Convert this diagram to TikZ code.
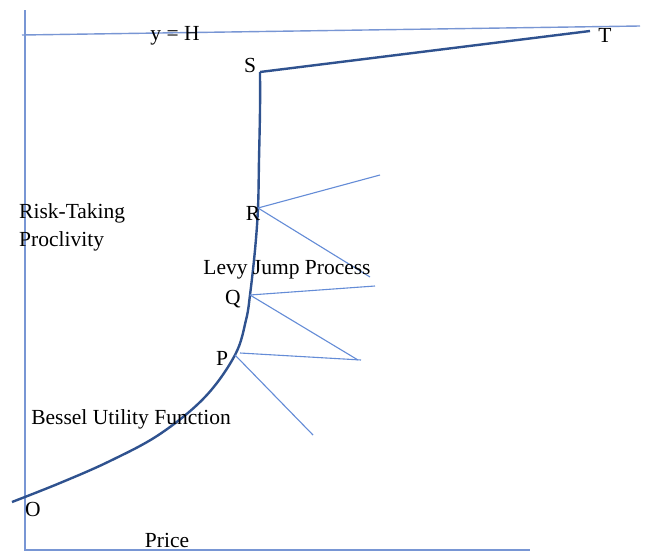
\documentclass[tikz,border=0pt]{standalone}
\usepackage{fontspec}
\setmainfont{Liberation Serif}
\begin{document}
\begin{tikzpicture}[x=1pt,y=-1pt,
  axis/.style={draw=axisblue,line width=1.4pt},
  curve/.style={draw=curveblue,line width=2.4pt},
  jump/.style={draw=jumpblue,line width=1.1pt},
  lbl/.style={font=\fontsize{21.5}{28}\selectfont,inner sep=0pt,text=black}]
\definecolor{axisblue}{RGB}{120,150,212}
\definecolor{curveblue}{RGB}{47,82,143}
\definecolor{jumpblue}{RGB}{100,140,215}
\useasboundingbox (0,0) rectangle (646,552);
\fill[white] (0,0) rectangle (646,552);
% axes
\coordinate (ytop) at (25,10);
\coordinate (origin) at (25,550);
\coordinate (xend) at (530,550);
\coordinate (hl) at (22,35);
\coordinate (hr) at (640,26);
\draw[axis] (ytop) -- (origin) -- (xend);
\draw[axis] (hl) -- (hr);
% main curve
\coordinate (O) at (12,502);
\coordinate (P) at (235,355);
\coordinate (Q) at (250,295);
\coordinate (R) at (258,208);
\coordinate (S) at (260,72);
\coordinate (T) at (590,31);
\draw[curve] plot[smooth,tension=0.6] coordinates {(12,502) (60,483) (110,461) (160,434) (205,397) (235,355) (246,320) (250,295) (255,250) (258,208) (259,160) (260,110) (260,72)};
\draw[curve] (S) -- (T);
% jumps
\coordinate (r1) at (380,175);
\coordinate (r2) at (370,277);
\coordinate (q1) at (375,286);
\coordinate (q2) at (358,360);
\coordinate (p0) at (240,353);
\coordinate (p1) at (361,360);
\coordinate (p2) at (313,435);
\draw[jump] (R) -- (r1);
\draw[jump] (R) -- (r2);
\draw[jump] (Q) -- (q1);
\draw[jump] (Q) -- (q2);
\draw[jump] (p0) -- (p1);
\draw[jump] (P) -- (p2);
% labels
\node[lbl] (lH) at (175,36) {y = H};
\node[lbl] (lS) at (250,65) {S};
\node[lbl] (lT) at (605,35) {T};
\node[lbl] (lR) at (253,213) {R};
\node[lbl] (lQ) at (233,299) {Q};
\node[lbl] (lP) at (222,358) {P};
\node[lbl] (lO) at (33,509) {O};
\node[lbl] (lPrice) at (167,540) {Price};
\node[lbl,anchor=west,align=left] (lRisk) at (19,227) {Risk-Taking\\Proclivity};
\node[lbl] (lLevy) at (287,270) {Levy Jump Process};
\node[lbl] (lBessel) at (131,419) {Bessel Utility Function};
\end{tikzpicture}
\end{document}
